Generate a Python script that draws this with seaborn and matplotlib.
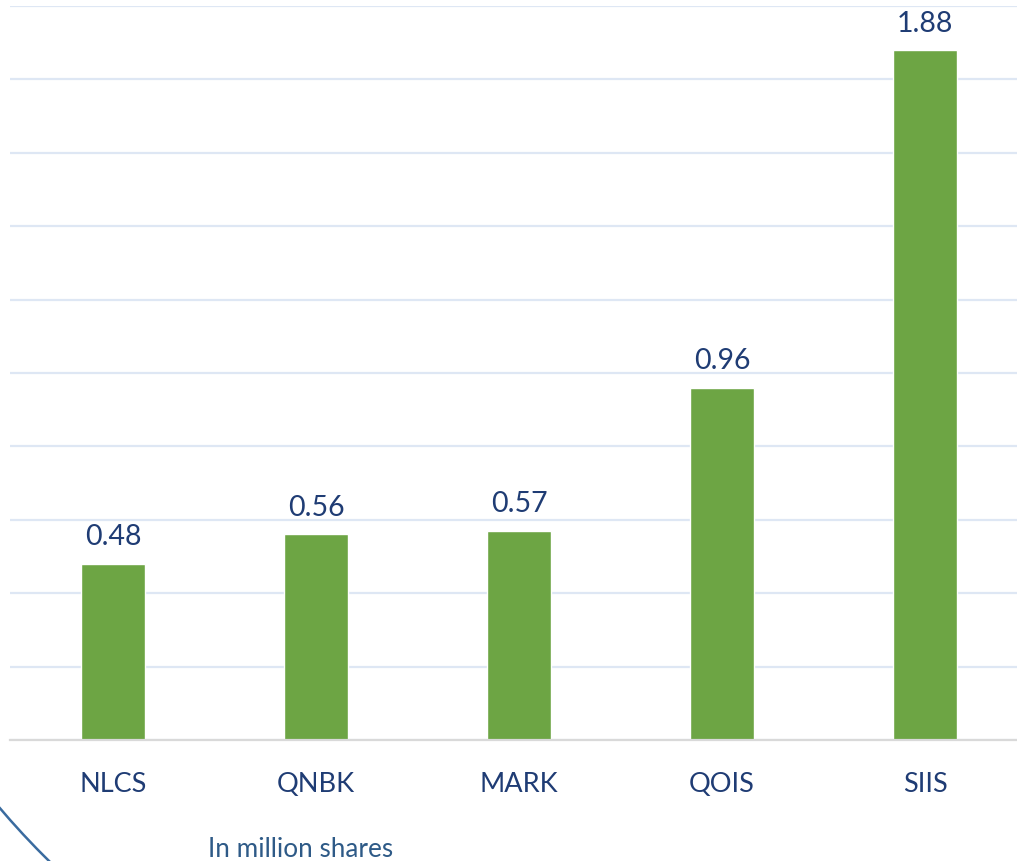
import matplotlib
matplotlib.use('Agg')
import matplotlib.pyplot as plt
from matplotlib.patches import Circle
import seaborn as sns

sns.set_style('white')
plt.rcParams['font.family'] = ['Lato', 'DejaVu Sans']

tickers = ['NLCS', 'QNBK', 'MARK', 'QOIS', 'SIIS']
volumes = [0.48, 0.56, 0.57, 0.96, 1.88]  # in million shares
y_ticks = [0.0, 0.2, 0.4, 0.6, 0.8, 1.0, 1.2, 1.4, 1.6, 1.8, 2.0]

bar_green = '#6DA544'
label_blue = '#1F3C74'
note_blue = '#2E5A87'

fig = plt.figure(figsize=(10.17, 8.62), dpi=100)
ax = fig.add_axes([10/1017, 121/862, 1007/1017, 734/862])

sns.barplot(x=tickers, y=volumes, color=bar_green, saturation=1, width=0.315, ax=ax)

ax.set_ylim(0, 2.0)
ax.set_xlim(-0.507, 4.453)
ax.set_yticks(y_ticks)
ax.yaxis.grid(True, color='#DEE7F4', lw=1.6)
ax.set_axisbelow(True)
ax.tick_params(axis='y', left=False, labelleft=False)
ax.tick_params(axis='x', length=0, pad=22, labelsize=19.5, labelcolor=label_blue)
ax.set_xlabel('')
ax.set_ylabel('')
for s in ['top', 'right', 'left']:
    ax.spines[s].set_visible(False)
ax.spines['bottom'].set_color('#D9D9D9')
ax.spines['bottom'].set_linewidth(1.6)

for i, v in enumerate(volumes):
    ax.annotate(f'{v:.2f}', (i, v), xytext=(0, 14), textcoords='offset points',
                ha='center', va='baseline', fontsize=20.5, color=label_blue)

fig.text(208/1017, 1 - 857/862, 'In million shares', fontsize=18.8, color=note_blue,
         ha='left', va='baseline')

# decorative arc in the lower left corner
arc = Circle((6.0, 5.62), 7.87, transform=fig.dpi_scale_trans, fill=False,
             edgecolor='#3A6B9F', lw=1.8, clip_on=False)
fig.patches.append(arc)

fig.savefig('out.png', dpi=100)
